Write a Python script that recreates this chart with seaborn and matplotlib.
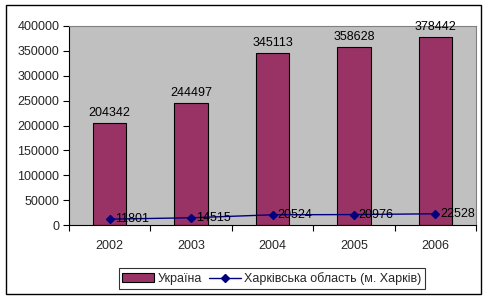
import matplotlib
matplotlib.use("Agg")
import matplotlib.pyplot as plt
import seaborn as sns
import pandas as pd
import numpy as np
from matplotlib.patches import Rectangle, Patch
from matplotlib.lines import Line2D

years = ["2002", "2003", "2004", "2005", "2006"]
ukraine = [204342, 244497, 345113, 358628, 378442]
kharkiv = [11801, 14515, 20524, 20976, 22528]
series_names = ["Україна", "Харківська область (м. Харків)"]

sns.set_theme(style="white")
plt.rcParams['font.family'] = ['Liberation Sans', 'DejaVu Sans']
FS = 9

fig = plt.figure(figsize=(4.92, 3.0), dpi=100)
ax = fig.add_axes([69/492, 1-225/300, (476-69)/492, (225-26)/300])
ax.set_facecolor("#C0C0C0")

df = pd.DataFrame({"year": years, "value": ukraine})
sns.barplot(data=df, x="year", y="value", color="#993366", width=0.41,
            edgecolor="black", linewidth=0.8, saturation=1, ax=ax, zorder=2)

pos = np.arange(len(years))
ax.plot(pos, kharkiv, color="#000080", marker="D", markersize=4, linewidth=1, zorder=3)

for x, v in zip(pos, ukraine):
    ax.text(x, v + 8000, str(v), ha="center", va="bottom", fontsize=FS, color="black", zorder=4)
for x, v in zip(pos, kharkiv):
    ax.text(x + 0.06, v, str(v), ha="left", va="center", fontsize=FS, color="black", zorder=4)

ax.set_xlim(-0.5, len(years) - 0.5)
ax.set_ylim(0, 400000)
ax.set_yticks(np.arange(0, 400001, 50000))
ax.set_yticklabels([str(v) for v in range(0, 400001, 50000)], fontsize=FS)
ax.set_xticks(pos)
ax.set_xticklabels(years, fontsize=FS)
ax.set_xticks(np.arange(-0.5, len(years), 1), minor=True)
ax.tick_params(axis="x", which="major", length=0, pad=11)
ax.tick_params(axis="x", which="minor", length=4, width=0.8, color="black", direction="out", bottom=True)
ax.tick_params(axis="y", length=4, width=0.8, color="black", direction="out", left=True, pad=3)
ax.set_xlabel("")
ax.set_ylabel("")

for s in ["top", "right"]:
    ax.spines[s].set_color("#808080")
    ax.spines[s].set_linewidth(0.8)
for s in ["left", "bottom"]:
    ax.spines[s].set_color("black")
    ax.spines[s].set_linewidth(0.8)

handles = [Patch(facecolor="#993366", edgecolor="black", linewidth=0.8),
           Line2D([0], [0], color="#000080", marker="D", markersize=4, linewidth=1)]
leg = fig.legend(handles, series_names, loc="center", bbox_to_anchor=(272/492, 1-278.5/300),
                 ncol=2, fontsize=FS, frameon=True, fancybox=False, edgecolor="black",
                 handlelength=2.5, handletextpad=0.3, columnspacing=0.6, borderpad=0.3)
leg.get_frame().set_linewidth(0.8)

fig.patches.append(Rectangle((6/492, 1-294/300), (481-6)/492, (294-5)/300,
                             transform=fig.transFigure, fill=False, edgecolor="black",
                             linewidth=1, zorder=10))

fig.savefig("out.png", dpi=100)
